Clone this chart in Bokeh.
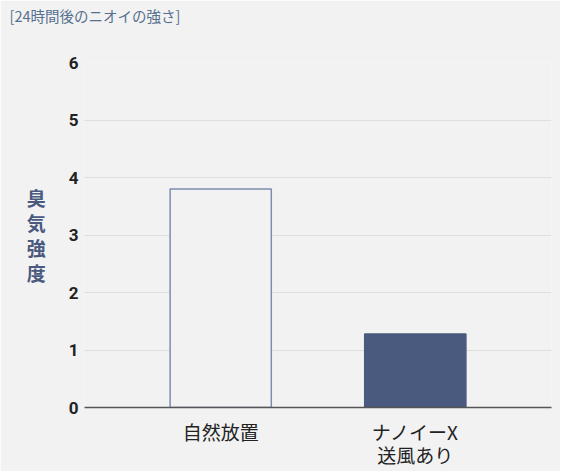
import bokeh.plotting as bp
import bokeh.models as bm
from bokeh.embed import file_html
from bokeh.resources import INLINE

# odour strength 24h later
conditions = ["自然放置", "ナノイーX\n送風あり"]
strength = [3.8, 1.28]
y_ticks = [0, 1, 2, 3, 4, 5, 6]
heading = "[24時間後のニオイの強さ]"

BG = "#f2f2f2"
NAVY = "#4a5a7e"
EDGE = "#7d8db0"


def make_plot():
	p = bp.figure(frame_width=467, frame_height=345,
		x_range=(-0.7, 1.7), y_range=(0, 6),
		output_backend="svg", toolbar_location=None)
	p.background_fill_color = BG
	p.border_fill_color = BG
	p.outline_line_color = None
	p.min_border_left = 84
	p.min_border_right = 9
	p.min_border_top = 62
	p.min_border_bottom = 58

	# spacer first (next to the frame), heading stacked above it
	p.add_layout(bm.Title(text=" ", text_font_size="1px", standoff=34), "above")
	p.add_layout(bm.Title(text=heading, text_font="Noto Sans CJK JP",
		text_font_size="14.5px", text_font_style="normal", text_color="#56708f",
		align="left", offset=-75, standoff=0), "above")

	xs = list(range(len(conditions)))
	source = bp.ColumnDataSource(dict(x=xs, top=strength,
		fill=[BG, NAVY], line=[EDGE, NAVY]))
	p.vbar(x="x", top="top", bottom=0, width=0.52, source=source,
		fill_color="fill", line_color="line", line_width=1.5)

	p.xaxis.ticker = bm.FixedTicker(ticks=xs)
	p.xaxis.major_label_overrides = {i: c for i, c in enumerate(conditions)}
	p.xaxis.major_label_text_font = "Noto Sans CJK JP"
	p.xaxis.major_label_text_font_size = "19px"
	p.xaxis.major_label_text_line_height = 0.88
	p.xaxis.major_label_text_color = "#222222"
	p.xaxis.major_tick_line_color = None
	p.xaxis.minor_tick_line_color = None
	p.xaxis.axis_line_color = "#555555"
	p.xaxis.axis_line_width = 1.5
	p.xaxis.major_label_standoff = 4

	p.yaxis.ticker = bm.FixedTicker(ticks=y_ticks)
	p.yaxis.major_label_text_font = "Roboto"
	p.yaxis.major_label_text_font_style = "bold"
	p.yaxis.major_label_text_font_size = "17px"
	p.yaxis.major_label_text_color = "#222222"
	p.yaxis.major_tick_line_color = None
	p.yaxis.minor_tick_line_color = None
	p.yaxis.axis_line_color = None
	p.yaxis.major_label_standoff = 0
	p.yaxis.axis_label = "臭\n気\n強\n度"
	p.yaxis.axis_label_orientation = "horizontal"
	p.yaxis.axis_label_text_font = "Noto Sans CJK JP"
	p.yaxis.axis_label_text_font_style = "bold"
	p.yaxis.axis_label_text_font_size = "19px"
	p.yaxis.axis_label_text_line_height = 0.92
	p.yaxis.axis_label_text_color = "#4a5a7e"
	p.yaxis.axis_label_standoff = 20

	p.xgrid.grid_line_color = None
	p.ygrid.grid_line_color = "#dedede"
	p.ygrid.grid_line_width = 1
	return p


p = make_plot()
open("out.html", "w").write(file_html(p, INLINE))
